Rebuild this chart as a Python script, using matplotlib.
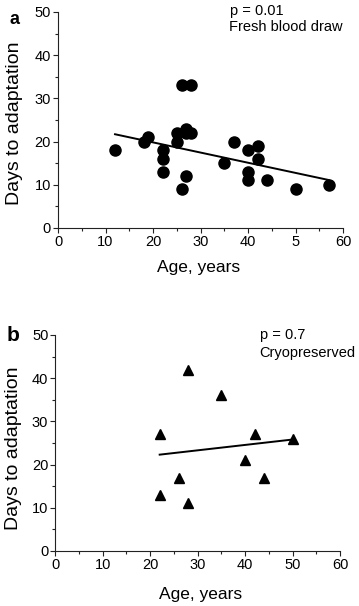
import matplotlib
matplotlib.use('Agg')
import matplotlib.pyplot as plt
from matplotlib.ticker import MultipleLocator

plt.rcParams['font.family'] = ['Liberation Sans', 'DejaVu Sans']

# panel a: fresh blood draw
fresh_age = [12, 18, 19, 22, 22, 22, 25, 25, 26, 26, 27, 27, 27, 28, 28,
             35, 37, 40, 40, 40, 42, 42, 44, 50, 57]
fresh_days = [18, 20, 21, 18, 16, 13, 22, 20, 9, 33, 23, 22, 12, 33, 22,
              15, 20, 18, 13, 11, 19, 16, 11, 9, 10]
fresh_fit_x = [12, 57]
fresh_fit_y = [21.7, 11.1]

# panel b: cryopreserved
cryo_age = [22, 22, 26, 28, 28, 35, 40, 42, 44, 50]
cryo_days = [27, 13, 17, 42, 11, 36, 21, 27, 17, 26]
cryo_fit_x = [22, 50]
cryo_fit_y = [22.3, 25.8]

x_ticks = [0, 10, 20, 30, 40, 50, 60]
x_labels_a = ['0', '10', '20', '30', '40', '5', '60']  # "5" as printed in the original
x_labels_b = ['0', '10', '20', '30', '40', '50', '60']
y_ticks = [0, 10, 20, 30, 40, 50]

fig = plt.figure(figsize=(3.59, 6.06), dpi=100)
ax_a = fig.add_axes([0.1616, 0.6238, 0.794, 0.3564])
ax_b = fig.add_axes([0.154, 0.0908, 0.793, 0.3564])


def style_axes(ax, xlabels):
    ax.set_xlim(0, 60)
    ax.set_ylim(0, 50)
    ax.set_xticks(x_ticks)
    ax.set_xticklabels(xlabels)
    ax.set_yticks(y_ticks)
    ax.xaxis.set_minor_locator(MultipleLocator(5))
    ax.yaxis.set_minor_locator(MultipleLocator(5))
    for side in ['top', 'right']:
        ax.spines[side].set_visible(False)
    for side in ['left', 'bottom']:
        ax.spines[side].set_linewidth(0.8)
        ax.spines[side].set_color('#222222')
    ax.tick_params(which='major', direction='out', length=3.5, width=0.8,
                   labelsize=10.5, pad=1.5, color='#222222')
    ax.tick_params(which='minor', direction='out', length=2, width=0.8,
                   color='#222222')
    ax.set_xlabel('Age, years', fontsize=12.5)
    ax.set_ylabel('Days to adaptation', fontsize=14)


style_axes(ax_a, x_labels_a)
ax_a.plot(fresh_age, fresh_days, 'o', color='black', markersize=8, clip_on=False)
ax_a.plot(fresh_fit_x, fresh_fit_y, '-', color='black', lw=1.4)
ax_a.xaxis.set_label_coords(0.493, -0.15)
ax_a.yaxis.set_label_coords(-0.123, 0.486)
ax_a.text(36.2, 49.4, 'p = 0.01', fontsize=10.5, va='baseline', ha='left')
ax_a.text(36.0, 45.5, 'Fresh blood draw', fontsize=10.5, va='baseline', ha='left')
fig.text(0.027, 0.982, 'a', fontsize=13, fontweight='bold', va='top', ha='left')

style_axes(ax_b, x_labels_b)
ax_b.plot(cryo_age, cryo_days, '^', color='black', markersize=7.5, clip_on=False)
ax_b.plot(cryo_fit_x, cryo_fit_y, '-', color='black', lw=1.4)
ax_b.xaxis.set_label_coords(0.509, -0.168)
ax_b.yaxis.set_label_coords(-0.117, 0.475)
ax_b.text(43.2, 49.1, 'p = 0.7', fontsize=10.5, va='baseline', ha='left')
ax_b.text(43.0, 44.9, 'Cryopreserved', fontsize=10.5, va='baseline', ha='left')
fig.text(0.018, 0.462, 'b', fontsize=15, fontweight='bold', va='top', ha='left')

fig.savefig('out.png', dpi=100)
